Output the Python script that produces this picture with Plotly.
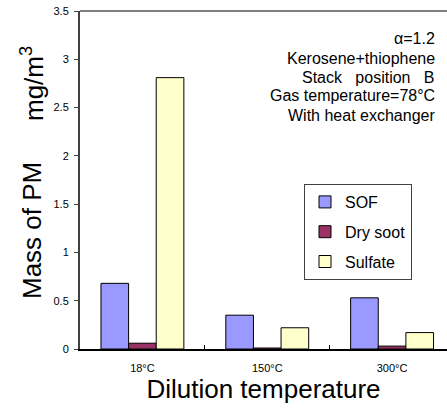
import plotly.graph_objects as go

categories = ["18°C", "150°C", "300°C"]
sof = [0.68, 0.35, 0.53]
dry_soot = [0.06, 0.01, 0.03]
sulfate = [2.81, 0.22, 0.17]

info_lines = [
    "α=1.2",
    "Kerosene+thiophene",
    "Stack\u00a0\u00a0 position\u00a0\u00a0 B",
    "Gas temperature=78°C",
    "With heat exchanger",
]

W, H = 447, 411
L, R, T, B = 80, 0, 11, 62
ph = H - T - B

def py(p):
    return (H - B - p) / ph

FONT = "Liberation Sans, Arial, sans-serif"

fig = go.Figure()
for name, vals, col, grp in [
    ("SOF", sof, "#9999FF", "a"),
    ("Dry soot", dry_soot, "#993366", "b"),
    ("Sulfate", sulfate, "#FFFFCC", "c"),
]:
    fig.add_trace(go.Bar(
        x=categories, y=vals, name=name, legendgroup=grp,
        marker=dict(color=col, line=dict(color="black", width=1)),
    ))

annotations = []
line_centers = [39, 58, 77, 96, 115]
for txt, yc in zip(info_lines, line_centers):
    annotations.append(dict(
        text=txt, xref="paper", yref="paper", x=1, xshift=-10, y=py(yc),
        xanchor="right", yanchor="middle", showarrow=False,
        font=dict(size=16, color="black", family=FONT),
    ))

annotations.append(dict(
    text="Mass of PM", xref="paper", yref="paper", x=0, xshift=-48, y=py(231),
    textangle=-90, xanchor="center", yanchor="middle", showarrow=False,
    font=dict(size=26, color="black", family=FONT),
))
annotations.append(dict(
    text="mg/m<sup>3</sup>", xref="paper", yref="paper", x=0, xshift=-48, y=py(84),
    textangle=-90, xanchor="center", yanchor="middle", showarrow=False,
    font=dict(size=26, color="black", family=FONT),
))

fig.update_layout(
    width=W, height=H,
    margin=dict(l=L, r=R, t=T, b=B),
    paper_bgcolor="white", plot_bgcolor="white",
    barmode="group", bargap=0.336, bargroupgap=0,
    font=dict(family=FONT, color="black"),
    showlegend=True,
    legend=dict(
        x=(321 - 17 - L) / (W - L - R), y=py(184), xanchor="left", yanchor="top",
        bordercolor="#404040", borderwidth=1, bgcolor="white",
        font=dict(size=16, family=FONT, color="black"),
        traceorder="grouped", tracegroupgap=6,
    ),
    xaxis=dict(
        range=[-0.5, 2.44], showline=True, linecolor="black", linewidth=2,
        ticks="inside", tickson="boundaries", ticklen=4, tickcolor="black",
        tickfont=dict(size=11, family=FONT), ticklabelstandoff=8,
        showgrid=False, zeroline=False,
        title=dict(text="Dilution temperature", font=dict(size=26, family=FONT), standoff=6),
    ),
    yaxis=dict(
        range=[0, 3.5], dtick=0.5, showline=True, linecolor="#404040", linewidth=2,
        ticks="outside", ticklen=4, tickcolor="#404040",
        tickfont=dict(size=11, family=FONT), ticklabelstandoff=3,
        showgrid=False, zeroline=False,
    ),
    shapes=[dict(type="line", xref="paper", yref="paper", x0=0, x1=1, y0=1, y1=1,
                 line=dict(color="#808080", width=2))],
    annotations=annotations,
)

fig.write_html("out.html")
